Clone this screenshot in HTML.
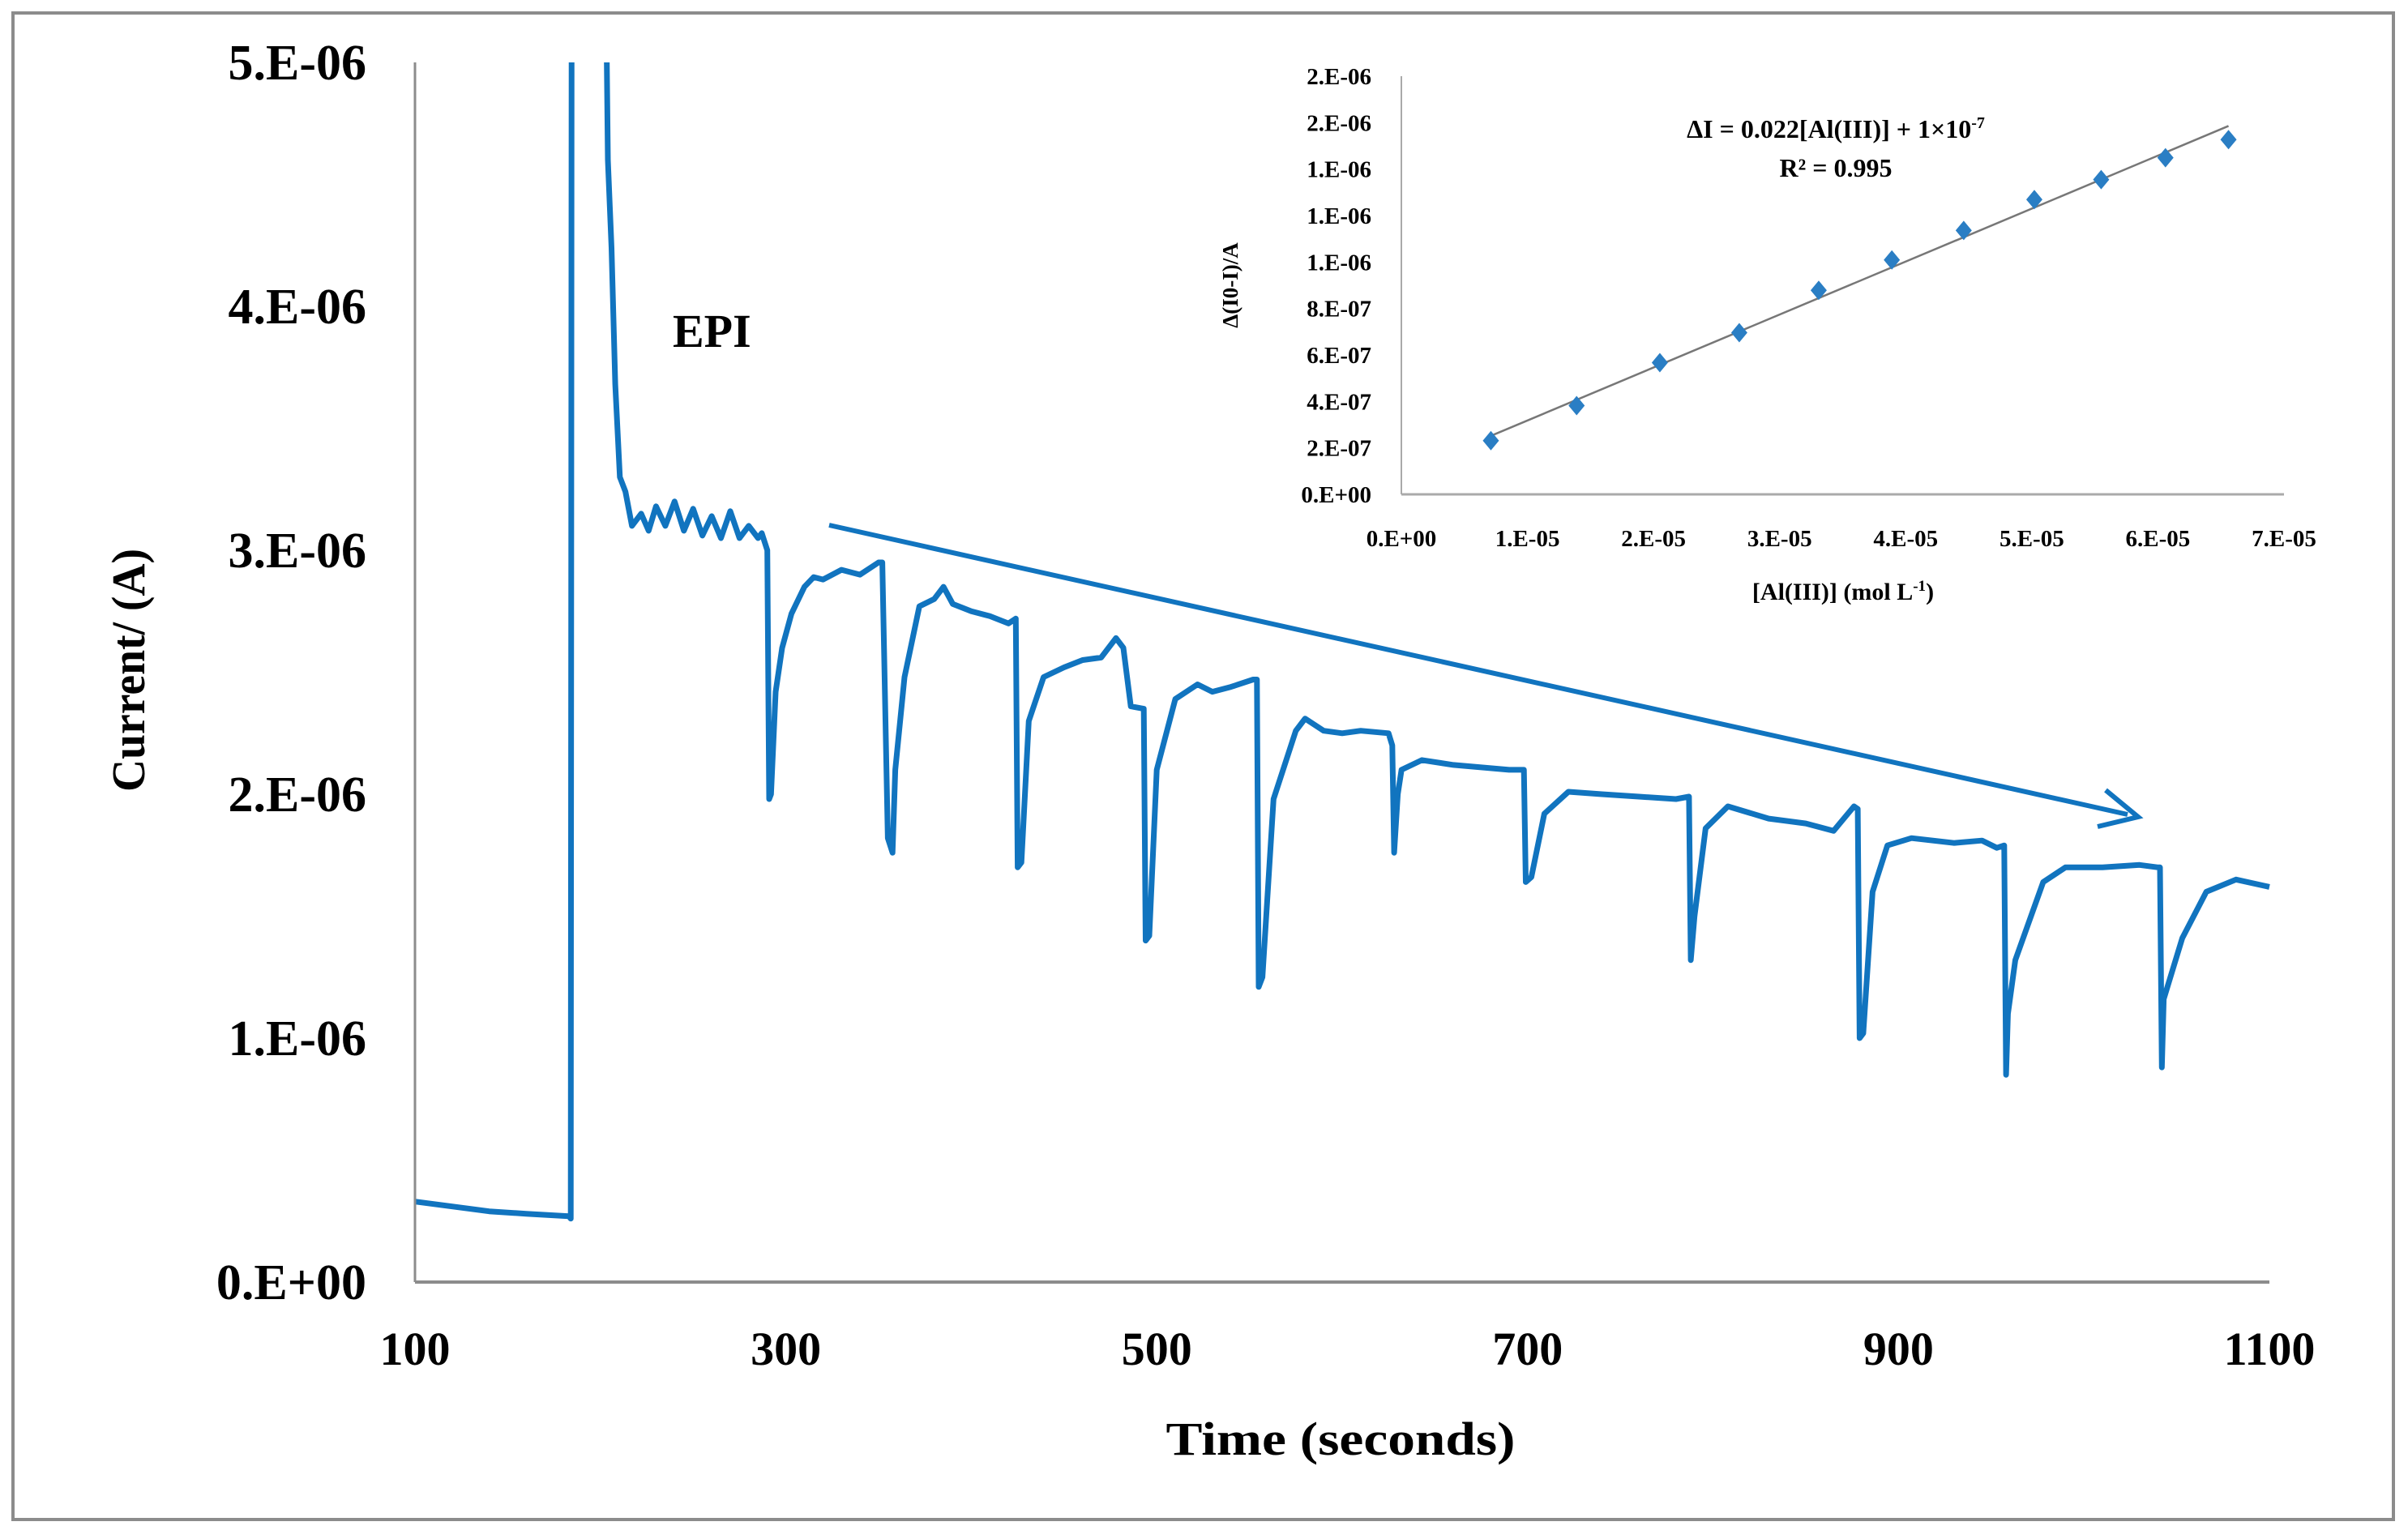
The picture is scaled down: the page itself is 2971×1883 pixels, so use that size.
<!DOCTYPE html>
<html><head><meta charset="utf-8"><style>
html,body{margin:0;padding:0;background:#fff;}
svg{display:block;}
text{font-family:"Liberation Serif",serif;font-weight:bold;fill:#000;}
</style></head><body>
<svg id="chart" width="2971" height="1883" viewBox="0 0 2971 1883" xmlns="http://www.w3.org/2000/svg">
<rect x="16" y="16" width="2937" height="1859" fill="#fff" stroke="#8c8c8c" stroke-width="4"/>
<g id="main"></g>
<g id="inset"></g>
</svg>
<script>
// Main chart data (time in s, current in µA)
const times = [100,120,140,160,183,184,184.5,203,204,206,208,210.5,213.5,217,222,226,230,235,240,245,250,255,260,265,270,275,280,285,287,
290,291,292,294.5,298,303,310,315,320,330,340,350,352,
355,357.5,359,364,372,380,385,390,400,410,420,424,
425,427,431,439,450,460,470,478,482,486,493,
494,496,500,510,522,530,540,552,554,
555,557,563,575,580,590,600,610,625,627,
628,630,632,643,660,675,690,698,
699,702,709,722,740,760,780,787,
788,790,796,808,830,850,865,876,878,
879,881,886,894,907,930,945,953,957,
958,959,963,978,990,1010,1030,1040,1041,
1042,1043,1053,1066,1082,1100];
const currents = [0.33,0.31,0.29,0.28,0.27,0.26,5.3,5.3,4.6,4.24,3.68,3.3,3.24,3.1,3.15,3.08,3.18,3.1,3.2,3.08,3.17,3.06,3.14,3.05,3.16,3.05,3.1,3.05,3.07,
3.0,1.98,2.0,2.42,2.6,2.74,2.85,2.89,2.88,2.92,2.9,2.95,2.95,
1.82,1.76,2.1,2.48,2.77,2.8,2.85,2.78,2.75,2.73,2.7,2.72,
1.7,1.72,2.3,2.48,2.52,2.55,2.56,2.64,2.6,2.36,2.35,
1.4,1.42,2.1,2.39,2.45,2.42,2.44,2.47,2.47,
1.21,1.25,1.98,2.26,2.31,2.26,2.25,2.26,2.25,2.2,
1.76,2.0,2.1,2.14,2.12,2.11,2.1,2.1,
1.64,1.66,1.92,2.01,2.0,1.99,1.98,1.99,
1.32,1.5,1.86,1.95,1.9,1.88,1.85,1.95,1.94,
1.0,1.02,1.6,1.79,1.82,1.8,1.81,1.78,1.79,
0.85,1.1,1.32,1.64,1.7,1.7,1.71,1.7,1.7,
0.88,1.16,1.41,1.6,1.65,1.62];
const xTicks = [100,300,500,700,900,1100];
const yTicks = [0,1,2,3,4,5];
const yTickLabels = ["0.E+00","1.E-06","2.E-06","3.E-06","4.E-06","5.E-06"];
// Inset data (concentration ×1e-5 mol/L, ΔI ×1e-7 A)
const conc = [0.71,1.39,2.05,2.68,3.31,3.89,4.46,5.02,5.55,6.06,6.56];
const deltaI = [2.31,3.82,5.67,6.96,8.78,10.09,11.36,12.69,13.55,14.49,15.27];
const insetXTicks = [0,1,2,3,4,5,6,7];
const insetXLabels = ["0.E+00","1.E-05","2.E-05","3.E-05","4.E-05","5.E-05","6.E-05","7.E-05"];
const insetYTicks = [0,2,4,6,8,10,12,14,16,18];
const insetYLabels = ["0.E+00","2.E-07","4.E-07","6.E-07","8.E-07","1.E-06","1.E-06","1.E-06","2.E-06","2.E-06"];
const fitSlope = 2.28, fitIntercept = 0.9, fitRange = [0.71,6.56];

const NS="http://www.w3.org/2000/svg";
function mk(tag, attrs, parent, txt){const e=document.createElementNS(NS,tag);for(const k in attrs)e.setAttribute(k,attrs[k]);if(txt!==undefined)e.textContent=txt;parent.appendChild(e);return e;}
const X=t=>512+(t-100)*(2800-512)/1000;
const Y=v=>1582-v*(1582-77)/5;
const main=document.getElementById('main');

// clip
const defs=mk('defs',{},main);
const cp=mk('clipPath',{id:'plotclip'},defs);
mk('rect',{x:500,y:77,width:2320,height:1510},cp);

let d='';
times.forEach((t,i)=>{d+=(i?'L':'M')+X(t).toFixed(1)+','+Y(currents[i]).toFixed(1);});
const line=mk('path',{d:d,fill:'none',stroke:'#1174bf','stroke-width':7,'stroke-linejoin':'round','clip-path':'url(#plotclip)'},main);



const yax=mk('line',{x1:512,y1:77,x2:512,y2:1582,stroke:'#8c8c8c','stroke-width':3},main);


const xax=mk('line',{x1:512,y1:1582,x2:2800,y2:1582,stroke:'#8c8c8c','stroke-width':4},main);



yTicks.forEach((v,i)=>{const t=mk('text',{x:452,y:Y(v)+21,'text-anchor':'end','font-size':62},main,yTickLabels[i]);

});
xTicks.forEach(v=>{const t=mk('text',{x:X(v),y:1684,'text-anchor':'middle','font-size':58},main,String(v));

});
const xt=mk('text',{x:1654,y:1795,'text-anchor':'middle','font-size':58,textLength:431,lengthAdjust:'spacingAndGlyphs'},main,'Time (seconds)');


const yt=mk('text',{x:0,y:0,'text-anchor':'middle','font-size':58,textLength:300,lengthAdjust:'spacingAndGlyphs',transform:'translate(178,827) rotate(-90)'},main,'Current/ (A)');


const epi=mk('text',{x:830,y:428,'font-size':58},main,'EPI');



// arrow
const ar=mk('line',{x1:1023,y1:648,x2:2625,y2:1005,stroke:'#1174bf','stroke-width':6},main);


const ah=mk('path',{d:'M2598,975 L2638,1008 L2588,1020',fill:'none',stroke:'#1174bf','stroke-width':6},main);



// inset
const ins=document.getElementById('inset');
const IX=c=>1729+c*(2818-1729)/7;
const IY=v=>610-v*(610-94)/18;
const iya=mk('line',{x1:1729,y1:94,x2:1729,y2:610,stroke:'#aaa','stroke-width':2},ins);


const ixa=mk('line',{x1:1729,y1:610,x2:2818,y2:610,stroke:'#aaa','stroke-width':3},ins);


insetYTicks.forEach((v,i)=>{const t=mk('text',{x:1692,y:IY(v)+10,'text-anchor':'end','font-size':29},ins,insetYLabels[i]);

});
insetXTicks.forEach((v,i)=>{const t=mk('text',{x:IX(v),y:674,'text-anchor':'middle','font-size':29},ins,insetXLabels[i]);

});
const fit=mk('line',{x1:IX(fitRange[0]),y1:IY(fitSlope*fitRange[0]+fitIntercept),x2:IX(fitRange[1]),y2:IY(fitSlope*fitRange[1]+fitIntercept),stroke:'#777','stroke-width':2.5},ins);


conc.forEach((c,i)=>{const x=IX(c),y=IY(deltaI[i]);
const p=mk('path',{d:`M${x},${y-12} L${x+10},${y} L${x},${y+12} L${x-10},${y} Z`,fill:'#2a7ec4'},ins);

});
const eq=mk('text',{x:2265,y:170,'text-anchor':'middle','font-size':32},ins);


eq.innerHTML='ΔI = 0.022[Al(III)] + 1×10<tspan font-size="20" dy="-12">-7</tspan>';
const r2=mk('text',{x:2265,y:218,'text-anchor':'middle','font-size':32},ins,'R² = 0.995');


const ixt=mk('text',{x:2274,y:740,'text-anchor':'middle','font-size':30},ins);


ixt.innerHTML='[Al(III)] (mol L<tspan font-size="19" dy="-11">-1</tspan><tspan dy="11">)</tspan>';
const iyt=mk('text',{x:0,y:0,'text-anchor':'middle','font-size':27,fill:'#444',transform:'translate(1527,352) rotate(-90)'},ins,'Δ(I0-I)/A');


</script>
</body></html>
